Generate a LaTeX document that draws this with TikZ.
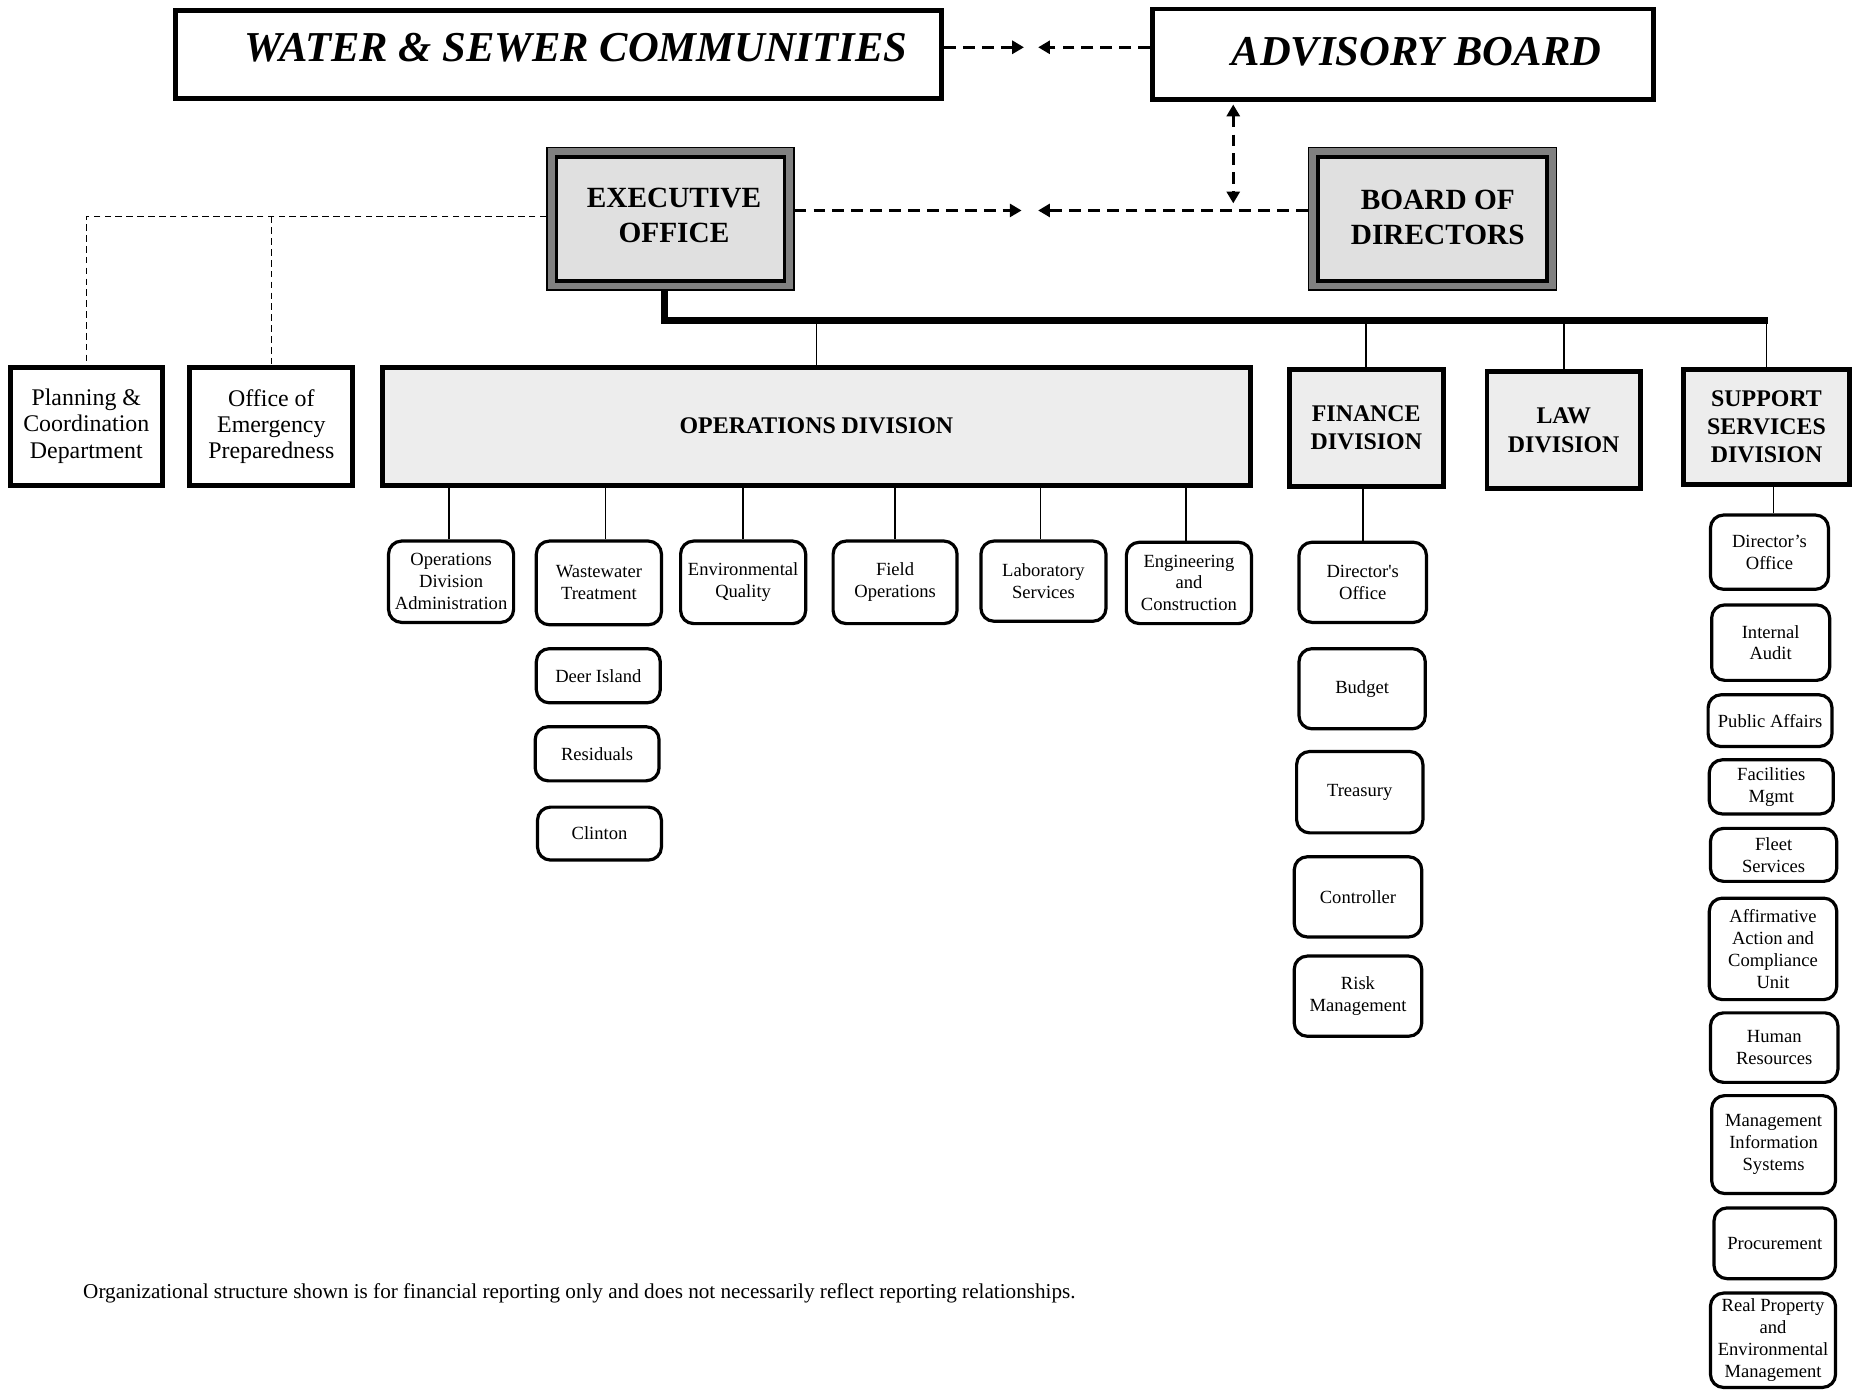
\documentclass[tikz,border=0pt]{standalone}
\usepackage{fontspec}
\setmainfont{Liberation Serif}
\usetikzlibrary{arrows.meta}
\newcommand{\fsub}{\fontsize{7.85}{9.25}\selectfont}
\newcommand{\fnote}{\fontsize{8.95}{10}\selectfont}
\newcommand{\fplan}{\fontsize{10.1}{11}\selectfont}
\newcommand{\fdiv}{\fontsize{10.1}{12}\selectfont\bfseries}
\newcommand{\fexec}{\fontsize{12.4}{14.8}\selectfont\bfseries}
\newcommand{\ftitle}{\fontsize{18}{20}\selectfont\bfseries\itshape}
\begin{document}
\begin{tikzpicture}[x=0.5pt,y=-0.5pt,
  sz/.style 2 args={minimum width={(#1)*0.5pt-1.6pt}, minimum height={(#2)*0.5pt-1.6pt}},
  topbox/.style={draw, line width=2pt, inner sep=0pt},
  plainbox/.style={draw, line width=2.1pt, inner sep=0pt, align=center, font=\fplan},
  divbox/.style={draw, line width=2.1pt, fill=black!7, inner sep=0pt, align=center, font=\fdiv},
  frame/.style={draw, line width=0.6pt, fill=black!50, inner sep=0pt},
  execbox/.style={draw, line width=1.6pt, fill=black!12, inner sep=0pt},
  subbox/.style={draw, line width=1.35pt, rounded corners=5.5pt, inner sep=0pt, align=center, font=\fsub},
  conn/.style={line width=0.7pt},
  busline/.style={line width=2.7pt},
  thindash/.style={line width=0.55pt, dash pattern=on 2.8pt off 1.8pt},
  dasharrow/.style={line width=1.4pt, dash pattern=on 5pt off 3pt, -{Triangle[length=5pt,width=5.5pt]}},
  dasharrows/.style={line width=1.4pt, dash pattern=on 5pt off 3pt, {Triangle[length=5pt,width=5.5pt]}-{Triangle[length=5pt,width=5.5pt]}}
]
\useasboundingbox (0,0) rectangle (1568,1176);
\fill[white] (0,0) rectangle (1568,1176);

% top boxes
\node[topbox, sz={651}{78}, label={[name=wstext, font=\ftitle, xshift=7.25pt, yshift=3pt]center:WATER \& SEWER COMMUNITIES}] (ws) at (472.5,46) {};
\node[topbox, sz={427}{80}, label={[name=advtext, font=\ftitle, xshift=5.75pt, yshift=1pt]center:ADVISORY BOARD}] (adv) at (1186.5,46) {};

% executive and board
\node[frame, sz={212}{124}] (execframe) at (567,185) {};
\node[execbox, sz={196}{108}, label={[name=exectext, font=\fexec, align=center, xshift=1.5pt, yshift=1.5pt]center:EXECUTIVE\\OFFICE}] (exec) at (567,185) {};
\node[frame, sz={213}{124}] (boardframe) at (1211.5,185) {};
\node[execbox, sz={197}{108}, label={[name=boardtext, font=\fexec, align=center, xshift=2.25pt, yshift=0.5pt]center:BOARD OF\\DIRECTORS}] (board) at (1211.5,185) {};

% dashed arrows
\coordinate (tr) at (866,40);
\coordinate (tl) at (878,40);
\draw[dasharrow] (ws.east |- tr) -- (tr);
\draw[dasharrow] (adv.west |- tl) -- (tl);
\coordinate (mr) at (864,178);
\coordinate (ml) at (878,178);
\draw[dasharrow] (execframe.east |- mr) -- (mr);
\draw[dasharrow] (boardframe.west |- ml) -- (ml);
\coordinate (vb) at (1043,172);
\draw[dasharrows] ([yshift=-1pt]adv.south -| vb) -- (vb);

% left boxes
\node[plainbox, sz={132}{103}] (plan) at (73,360.5) {Planning \&\\Coordination\\Department};
\node[plainbox, sz={141}{103}] (oep) at (229.5,360.5) {Office of\\Emergency\\Preparedness};
\coordinate (dl) at (73,183);
\draw[thindash] (execframe.west |- dl) -- (dl) -- (plan.north);
\draw[thindash] (oep.north |- dl) -- (oep.north);

% divisions
\node[divbox, sz={737}{103}] (ops) at (690.5,360.5) {OPERATIONS DIVISION};
\node[divbox, sz={133}{102}] (fin) at (1155.5,362) {FINANCE\\DIVISION};
\node[divbox, sz={133}{102}] (law) at (1322.5,364) {LAW\\DIVISION};
\node[divbox, sz={144}{100}] (sup) at (1494,361) {SUPPORT\\SERVICES\\DIVISION};

% bus
\coordinate (bus) at (562,271);
\coordinate (busend) at (1495,271);
\draw[busline] (execframe.south -| bus) -- (bus) -- (busend);
\draw[conn] (bus -| ops.north) -- (ops.north);
\draw[conn] (bus -| fin.north) -- (fin.north);
\draw[conn] (bus -| law.north) -- (law.north);
\draw[conn] (bus -| sup.north) -- (sup.north);

% operations sub units
\node[subbox, sz={109}{72}] (oda) at (381.5,492) {Operations\\Division\\Administration};
\node[subbox, sz={109}{74}] (wwt) at (506.5,493) {Wastewater\\Treatment};
\node[subbox, sz={109}{73}] (envq) at (628.5,492.5) {Environmental\\Quality};
\node[subbox, sz={108}{73}] (fo) at (757,492.5) {Field\\Operations};
\node[subbox, sz={109}{71}] (lab) at (882.5,491.5) {Laboratory\\Services};
\node[subbox, sz={109}{72}] (eng) at (1005.5,493) {Engineering\\and\\Construction};
\node[subbox, sz={108}{49}] (deer) at (506,571.5) {Deer Island};
\node[subbox, sz={108}{49}] (res) at (505,637.5) {Residuals};
\node[subbox, sz={108}{48}] (clin) at (507,705) {Clinton};
\draw[conn] ([xshift=-0.75pt]oda.north) -- ([xshift=-0.75pt]oda.north |- ops.south);
\draw[conn] ([xshift=2.75pt]wwt.north) -- ([xshift=2.75pt]wwt.north |- ops.south);
\draw[conn] (envq.north) -- (envq.north |- ops.south);
\draw[conn] (fo.north) -- (fo.north |- ops.south);
\draw[conn] ([xshift=-1.25pt]lab.north) -- ([xshift=-1.25pt]lab.north |- ops.south);
\draw[conn] ([xshift=-1.25pt]eng.north) -- ([xshift=-1.25pt]eng.north |- ops.south);

% finance sub units
\node[subbox, sz={111}{71}] (fdo) at (1152.5,492.5) {Director\textquotesingle s\\Office};
\node[subbox, sz={110}{71}] (bud) at (1152,582.5) {Budget};
\node[subbox, sz={110}{72}] (tre) at (1150,670) {Treasury};
\node[subbox, sz={111}{71}] (con) at (1148.5,758.5) {Controller};
\node[subbox, sz={111}{71}] (risk) at (1148.5,842.5) {Risk\\Management};
\draw[conn] (fdo.north) -- (fdo.north |- fin.south);

% support sub units
\node[subbox, sz={103}{66}] (sdo) at (1496.5,467) {Director’s\\Office};
\node[subbox, sz={103}{67}] (ia) at (1497.5,543.5) {Internal\\Audit};
\node[subbox, sz={108}{47}] (pa) at (1497,609.5) {Public Affairs};
\node[subbox, sz={108}{49}] (fm) at (1498,665.5) {Facilities\\Mgmt};
\node[subbox, sz={110}{48}] (fs) at (1500,723) {Fleet\\Services};
\node[subbox, sz={111}{89}] (aa) at (1499.5,802.5) {Affirmative\\Action and\\Compliance\\Unit};
\node[subbox, sz={111}{62}] (hr) at (1500.5,886) {Human\\Resources};
\node[subbox, sz={108}{86}] (mis) at (1500,968) {Management\\Information\\Systems};
\node[subbox, sz={106}{63}] (proc) at (1501,1051.5) {Procurement};
\node[subbox, sz={109}{83}] (rp) at (1499.5,1133.5) {Real Property\\and\\Environmental\\Management};
\draw[conn] ([xshift=1.75pt]sdo.north) -- ([xshift=1.75pt]sdo.north |- sup.south);

% footer
\node[anchor=west, font=\fnote, inner sep=0pt] (note) at (70,1094) {Organizational structure shown is for financial reporting only and does not necessarily reflect reporting relationships.};
\end{tikzpicture}
\end{document}
